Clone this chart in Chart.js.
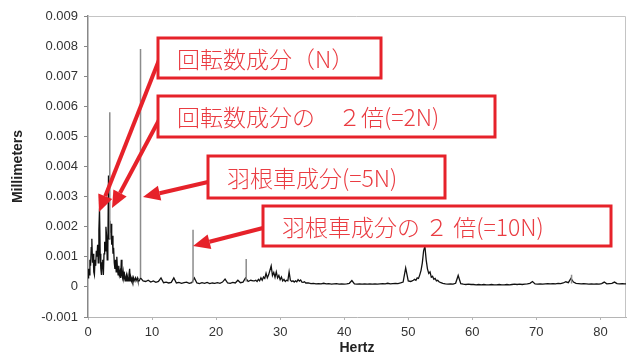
<!DOCTYPE html>
<html>
<head>
<meta charset="utf-8">
<script src="https://cdn.jsdelivr.net/npm/chart.js@4"></script>
<style>
  html, body { margin: 0; padding: 0; background: #fff; }
  canvas { display: block; }
</style>
</head>
<body>
<canvas id="spectrum" width="632" height="358"></canvas>
<script>
// Spectrum amplitude (mm)
const lowStart = 0, lowStep = 0.1;
const lowBand = [
  0.0003, 0.0006, 0.0004, 0.0009, 0.0007, 0.0013, 0.0016, 0.0008, 0.0011, 0.0005,
  0.0004, 0.0009, 0.0007, 0.0012, 0.0010, 0.0014, 0.0008, 0.0019, 0.0026, 0.0011,
  0.0006, 0.0004, 0.0008, 0.0009, 0.0004, 0.0011, 0.0015, 0.0012, 0.0020, 0.0017,
  0.0009, 0.0013, 0.0037, 0.0016, 0.0022, 0.0018, 0.0021, 0.0014, 0.0017, 0.0011,
  0.0013, 0.0008, 0.0006, 0.0009, 0.0005, 0.0010, 0.0006, 0.0004, 0.0007, 0.0004,
  0.0005, 0.0003, 0.0009, 0.0004, 0.0003, 0.0005, 0.0003, 0.0004, 0.0002, 0.0003,
  0.0004, 0.0002, 0.0003, 0.0002, 0.0004, 0.0006, 0.0002, 0.0003, 0.0002, 0.0003,
  0.0002, 0.0003, 0.0002, 0.0002, 0.0003, 0.0002, 0.0002, 0.0003, 0.0002, 0.0002,
  0.0002
];
const midStart = 8.2, midStep = 0.4;
const midBand = [
  0.0003, 0.0002, 0.00018, 0.00022, 0.00016, 0.0002, 0.00015, 0.00018, 0.0003, 0.00014,
  0.00016, 0.00013, 0.00015, 0.0003, 0.00013, 0.00015, 0.00012, 0.00014, 0.00016, 0.00012,
  0.00014, 0.0003, 0.00013, 0.00011, 0.00014, 0.00012, 0.00015, 0.00011, 0.00013, 0.00012,
  0.00014, 0.00012, 0.00016, 0.00026, 0.00013, 0.00012, 0.00015, 0.00013, 0.00022, 0.00014,
  0.00016, 0.0003, 0.00018, 0.00022, 0.0002
];
const humpStart = 26.0, humpStep = 0.2;
const humpBand = [
  0.0002, 0.00022, 0.00018, 0.00025, 0.0002, 0.0003, 0.00022, 0.00033, 0.00028, 0.00045,
  0.0003, 0.0004, 0.00055, 0.0007, 0.00038, 0.00048, 0.00032, 0.0005, 0.0003, 0.00038,
  0.00024, 0.00033, 0.0002, 0.00025, 0.00018, 0.00022, 0.0002, 0.0005, 0.00022, 0.00018,
  0.0002, 0.00016, 0.0002, 0.00017, 0.00024, 0.00019, 0.00023, 0.00016, 0.00015, 0.00017,
  0.00013
];
const quietStart = 34.4, quietStep = 0.4;
const quietBand = [
  0.00013, 0.00011, 0.00012, 0.0001, 0.00011, 0.0001, 0.00012, 0.0001, 0.00011, 0.00009,
  0.0001, 0.00011, 0.00009, 0.0001, 0.00009, 0.0001, 0.00012, 0.00021, 0.0001, 0.00009,
  0.0001, 0.00009, 0.0001, 0.00009, 0.0001, 0.00009, 0.0001, 0.00009, 0.0001, 0.00011,
  0.0001, 0.00012, 0.0001, 0.00011, 0.00012, 0.00011, 0.00013, 0.00016, 0.00063, 0.0002,
  0.00018
];
const peakStart = 50.6, peakStep = 0.2;
const peakBand = [
  0.0002, 0.00022, 0.00025, 0.00022, 0.0003, 0.00028, 0.0004, 0.00055, 0.0008, 0.0012,
  0.00135, 0.0009, 0.0006, 0.00045, 0.0005, 0.00032, 0.00035, 0.00025, 0.00028, 0.0002,
  0.00022, 0.00017, 0.00015
];
const highStart = 55.4, highStep = 0.4;
const highBand = [
  0.00012, 0.0001, 0.00009, 0.0001, 0.00009, 0.00012, 0.00038, 0.00011, 0.00009, 0.00008,
  0.00009, 0.00008, 0.00008, 0.00007, 0.00008, 0.00007, 0.00008, 0.00007, 0.00007, 0.00008,
  0.00007, 0.00007, 0.00008, 0.00007, 0.00007, 0.00008, 0.00007, 0.00008, 0.00009, 0.00008,
  0.00009, 0.00008, 0.00009, 0.0001, 0.00012, 0.00018, 0.0001, 0.00009, 0.0001, 0.00009,
  0.0001, 0.00011, 0.0001, 0.00011, 0.0001, 0.00012, 0.00011, 0.00013, 0.00017, 0.00014,
  0.00028, 0.00016, 0.00012, 0.00011, 0.0001, 0.00011, 0.0001, 0.00009, 0.0001, 0.00009,
  0.0001, 0.00009, 0.00011, 0.00016, 0.0001, 0.00011, 0.00012, 0.00016, 0.00011, 0.0001,
  0.00011, 0.0001, 0.0001
];

// thin single-bin lines (drawn grey in the original)
const spikeHz = [3.4, 8.2, 16.4, 24.7, 75.5];
const spikeTop = [0.0058, 0.0079, 0.0019, 0.00093, 0.0004];
const spikeBase = [0.0016, 0.0003, 0.00015, 0.00018, 0.00011];

const xTicks = [0, 10, 20, 30, 40, 50, 60, 70, 80];

// callouts: text, box [left, top, right, bottom], arrow tail -> tip (px)
const calloutText = [
  '回転数成分（N）',
  '回転数成分の　２倍(=2N)',
  '羽根車成分(=5N)',
  '羽根車成分の ２ 倍(=10N)'
];
const calloutBox = [[158, 38, 381, 78], [158, 96, 495, 137], [208, 156, 445, 198], [263, 206, 611, 246]];
const calloutArrow = [[159, 60, 99, 212], [159, 120, 112, 208], [208, 182, 143, 197], [263, 228, 193, 246]];

function band(start, step, values) {
  return values.map((v, i) => ({ x: +(start + i * step).toFixed(2), y: v }));
}

const spectrum = [
  ...band(lowStart, lowStep, lowBand),
  ...band(midStart, midStep, midBand),
  ...band(humpStart, humpStep, humpBand),
  ...band(quietStart, quietStep, quietBand),
  ...band(peakStart, peakStep, peakBand),
  ...band(highStart, highStep, highBand),
];

const spikes = [];
spikeHz.forEach((f, i) => {
  spikes.push({ x: f, y: spikeBase[i] }, { x: f, y: spikeTop[i] }, { x: f, y: null });
});

const RED = '#e6222a';
const TICK_FONT = { family: '"Liberation Sans", Arial, sans-serif', size: 13 };

const callouts = {
  id: 'callouts',
  beforeDatasetsDraw(chart) {
    // light frame on the top and right of the plot area
    const { ctx, chartArea: a } = chart;
    ctx.save();
    ctx.strokeStyle = '#c4c4c4';
    ctx.lineWidth = 1;
    ctx.beginPath();
    ctx.moveTo(a.left, a.top + 0.5);
    ctx.lineTo(a.right - 0.5, a.top + 0.5);
    ctx.lineTo(a.right - 0.5, a.bottom);
    ctx.stroke();
    ctx.restore();
  },
  afterDraw(chart) {
    const ctx = chart.ctx;
    ctx.save();
    ctx.strokeStyle = RED;
    ctx.fillStyle = RED;
    ctx.lineCap = 'butt';
    calloutArrow.forEach(([x1, y1, x2, y2]) => {
      const ang = Math.atan2(y2 - y1, x2 - x1);
      const head = 17, half = 7.5;
      const bx = x2 - head * Math.cos(ang), by = y2 - head * Math.sin(ang);
      ctx.lineWidth = 4;
      ctx.beginPath();
      ctx.moveTo(x1, y1);
      ctx.lineTo(bx, by);
      ctx.stroke();
      ctx.beginPath();
      ctx.moveTo(x2, y2);
      ctx.lineTo(bx + half * Math.sin(ang), by - half * Math.cos(ang));
      ctx.lineTo(bx - half * Math.sin(ang), by + half * Math.cos(ang));
      ctx.closePath();
      ctx.fill();
    });
    calloutBox.forEach(([l, t, r, b], i) => {
      ctx.fillStyle = '#fff';
      ctx.fillRect(l, t, r - l, b - t);
      ctx.lineWidth = 3;
      ctx.strokeStyle = RED;
      ctx.strokeRect(l, t, r - l, b - t);
      ctx.fillStyle = '#ea3c42';
      ctx.font = '300 23px "Noto Sans CJK JP"';
      ctx.textBaseline = 'middle';
      ctx.textAlign = 'left';
      ctx.fillText(calloutText[i], l + 19, (t + b) / 2 + 1);
    });
    ctx.restore();
  }
};

new Chart(document.getElementById('spectrum'), {
  type: 'line',
  data: {
    datasets: [
      {
        label: 'spikes',
        data: spikes,
        borderColor: '#8c8c8c',
        borderWidth: 1.5,
        pointRadius: 0,
        spanGaps: false,
      },
      {
        label: 'Millimeters',
        data: spectrum,
        borderColor: '#111',
        borderWidth: 1.3,
        pointRadius: 0,
        tension: 0,
      }
    ]
  },
  options: {
    responsive: false,
    animation: false,
    events: [],
    layout: { padding: { top: 16, right: 6, left: 0, bottom: 0 } },
    plugins: { legend: { display: false }, tooltip: { enabled: false } },
    scales: {
      x: {
        type: 'linear',
        min: 0,
        max: 84,
        afterBuildTicks: (scale) => { scale.ticks = xTicks.map(v => ({ value: v })); },
        afterFit: (scale) => { scale.height = 41; },
        grid: { display: true, drawOnChartArea: false, drawTicks: true, tickLength: 3, color: '#b5b5b5' },
        border: { display: true, color: '#b5b5b5', width: 1 },
        ticks: { color: '#333', font: TICK_FONT, padding: 5, maxRotation: 0 },
        title: {
          display: true,
          text: 'Hertz',
          color: '#222',
          font: { family: '"Liberation Sans", Arial, sans-serif', size: 14, weight: 'bold' },
          padding: { top: 0, bottom: 1 },
        },
      },
      y: {
        min: -0.001,
        max: 0.009,
        afterFit: (scale) => { scale.width = 88; },
        grid: { display: true, drawOnChartArea: false, drawTicks: true, tickLength: 4, color: '#888' },
        border: { display: true, color: '#888', width: 1.5 },
        ticks: {
          stepSize: 0.001,
          color: '#333',
          font: TICK_FONT,
          padding: 6,
          callback: (v) => Math.abs(v) < 1e-9 ? '0' : v.toFixed(3),
        },
        title: {
          display: true,
          text: 'Millimeters',
          color: '#222',
          font: { family: '"Liberation Sans", Arial, sans-serif', size: 14, weight: 'bold' },
          padding: { top: 10, bottom: 0 },
        },
      }
    }
  },
  plugins: [callouts]
});
</script>
</body>
</html>
